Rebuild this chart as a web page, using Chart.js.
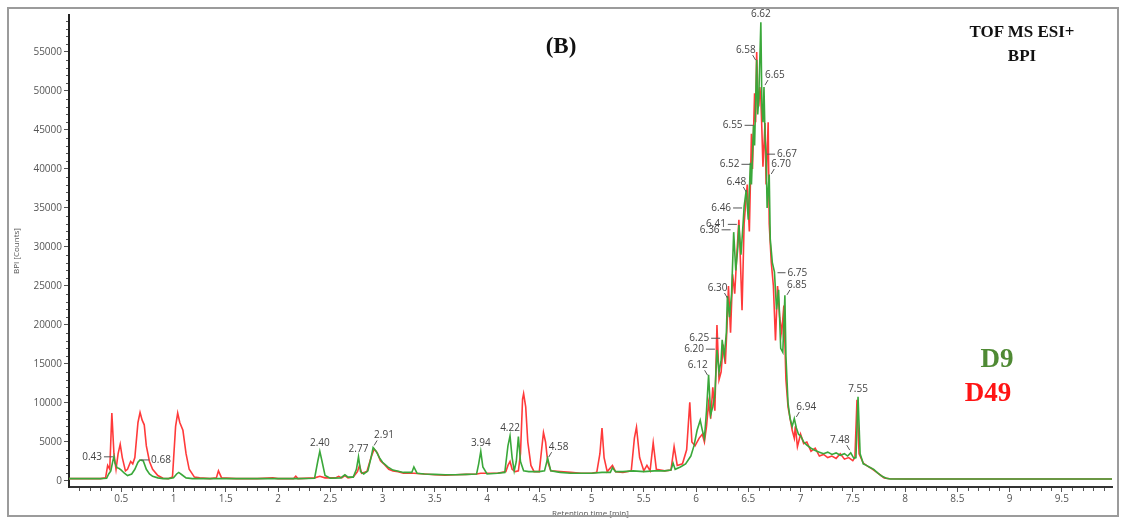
<!DOCTYPE html>
<html>
<head>
<meta charset="utf-8">
<script src="https://cdn.jsdelivr.net/npm/chart.js@4.4.1/dist/chart.umd.min.js"></script>
<style>
  html, body { margin: 0; padding: 0; background: #fff; }
  #wrap { position: relative; width: 1124px; height: 520px; overflow: hidden; }
  #frame { position: absolute; left: 7px; top: 7px; width: 1112px; height: 510px; border: 2px solid #9b9b9b; box-sizing: border-box; pointer-events: none; }
  .note { position: absolute; transform: translate(-50%, -50%); font-family: 'Liberation Serif', 'Times New Roman', serif; font-weight: bold; white-space: nowrap; line-height: 1; }
</style>
</head>
<body>
<div id="wrap">
  <canvas id="c" width="1124" height="520"></canvas>
  <div id="frame"></div>
  <div class="note" style="left:561px;top:45px;font-size:23px;color:#111">(B)</div>
  <div class="note" style="left:1022px;top:31px;font-size:17px;color:#111">TOF MS ESI+</div>
  <div class="note" style="left:1022px;top:55px;font-size:17px;color:#111">BPI</div>
  <div class="note" style="left:997px;top:358px;font-size:27px;color:#4f8a34">D9</div>
  <div class="note" style="left:988px;top:392px;font-size:27px;color:#ff1414">D49</div>
</div>
<script>
// D9 (green) base peak intensity trace
var d9Time = [
  0, 0.1, 0.2, 0.3, 0.36, 0.38, 0.4, 0.42, 0.43, 0.44,
  0.46, 0.48, 0.5, 0.53, 0.56, 0.6, 0.63, 0.66, 0.68, 0.71,
  0.74, 0.77, 0.8, 0.85, 0.9, 0.95, 1.0, 1.03, 1.05, 1.08,
  1.12, 1.18, 1.3, 1.5, 1.8, 2.0, 2.2, 2.35, 2.38, 2.40,
  2.42, 2.45, 2.5, 2.6, 2.64, 2.67, 2.72, 2.75, 2.77, 2.79,
  2.82, 2.86, 2.89, 2.91, 2.94, 2.97, 3.0, 3.05, 3.1, 3.2,
  3.28, 3.3, 3.33, 3.4, 3.5, 3.6, 3.7, 3.8, 3.9, 3.92,
  3.94, 3.96, 4.0, 4.1, 4.17, 4.2, 4.22, 4.24, 4.26, 4.28,
  4.30, 4.32, 4.35, 4.4, 4.5, 4.55, 4.58, 4.61, 4.7, 4.8,
  4.9, 5.0, 5.1, 5.18, 5.2, 5.23, 5.3, 5.4, 5.5, 5.6,
  5.7, 5.76, 5.78, 5.8, 5.85, 5.9, 5.95, 5.98, 6.01, 6.04,
  6.06, 6.08, 6.10, 6.12, 6.14, 6.16, 6.18, 6.20, 6.22, 6.24,
  6.25, 6.27, 6.29, 6.30, 6.32, 6.34, 6.36, 6.38, 6.40, 6.41,
  6.43, 6.45, 6.46, 6.48, 6.50, 6.52, 6.53, 6.55, 6.56, 6.58,
  6.59, 6.60, 6.62, 6.63, 6.64, 6.65, 6.66, 6.67, 6.68, 6.70,
  6.71, 6.73, 6.75, 6.77, 6.79, 6.81, 6.83, 6.85, 6.86, 6.88,
  6.90, 6.92, 6.94, 6.96, 6.98, 7.0, 7.03, 7.06, 7.1, 7.14,
  7.18, 7.22, 7.26, 7.3, 7.34, 7.38, 7.42, 7.45, 7.48, 7.51,
  7.53, 7.55, 7.57, 7.6, 7.63, 7.67, 7.7, 7.74, 7.78, 7.82,
  7.86, 8.0, 9.0, 10.0
];
var d9Counts = [
  300, 300, 300, 300, 350, 900, 1300, 2600, 3100, 2300,
  1700, 1600, 1400, 1000, 700, 900, 1500, 2400, 2700, 2600,
  1500, 900, 600, 400, 300, 300, 400, 900, 1100, 800,
  400, 300, 300, 300, 300, 300, 300, 350, 2500, 3800,
  2600, 700, 350, 400, 800, 500, 500, 1500, 3100, 1200,
  900, 1300, 3000, 4300, 3800, 3000, 2400, 1800, 1400, 1100,
  1100, 1800, 1000, 900, 850, 800, 800, 850, 900, 2200,
  3800, 1800, 900, 1000, 1100, 4500, 5800, 3000, 1300, 2500,
  5700, 2500, 1300, 1200, 1200, 1300, 2900, 1300, 1100, 1000,
  1000, 1000, 1100, 1100, 1700, 1200, 1200, 1300, 1200, 1300,
  1300, 1400, 2300, 1500, 1800, 2200, 3200, 4500, 6500, 7800,
  6500, 5500, 9000, 13600, 8500, 9500, 11000, 16800, 14000, 15500,
  18100, 16000, 19000, 23700, 21000, 24000, 31900, 27000, 30000, 32800,
  29000, 33000, 35200, 37300, 33500, 40800, 38000, 45600, 43000, 54000,
  47000, 49000, 58800, 48000, 46000, 50500, 44000, 42000, 35000, 39300,
  31000, 28000, 26800, 22000, 24500, 17000, 16500, 23800, 16000, 10000,
  8000, 7000, 8000, 6800, 6000, 5800, 5000, 4600, 4200, 3900,
  3700, 3500, 3700, 3400, 3600, 3300, 3500, 3200, 3600, 2900,
  3000, 10800, 3500, 2200, 2000, 1700, 1500, 1000, 600, 350,
  260, 260, 260, 260
];

// D49 (red) base peak intensity trace
var d49Time = [
  0, 0.1, 0.2, 0.3, 0.35, 0.37, 0.39, 0.41, 0.43, 0.45,
  0.47, 0.49, 0.51, 0.54, 0.56, 0.59, 0.61, 0.63, 0.66, 0.68,
  0.70, 0.72, 0.74, 0.77, 0.8, 0.85, 0.9, 0.95, 0.99, 1.02,
  1.04, 1.06, 1.09, 1.12, 1.15, 1.2, 1.25, 1.35, 1.41, 1.43,
  1.46, 1.6, 1.8, 1.95, 2.0, 2.15, 2.17, 2.19, 2.35, 2.4,
  2.45, 2.55, 2.58, 2.61, 2.64, 2.67, 2.72, 2.76, 2.78, 2.80,
  2.85, 2.89, 2.92, 2.95, 2.98, 3.02, 3.06, 3.1, 3.15, 3.2,
  3.3, 3.4, 3.5, 3.6, 3.7, 3.8, 3.9, 3.94, 4.0, 4.1,
  4.18, 4.20, 4.22, 4.24, 4.27, 4.30, 4.32, 4.34, 4.35, 4.37,
  4.39, 4.42, 4.45, 4.5, 4.53, 4.54, 4.56, 4.58, 4.61, 4.7,
  4.8, 4.9, 5.0, 5.05, 5.08, 5.10, 5.12, 5.15, 5.2, 5.23,
  5.3, 5.38, 5.41, 5.43, 5.46, 5.5, 5.53, 5.56, 5.59, 5.62,
  5.7, 5.76, 5.79, 5.82, 5.87, 5.91, 5.94, 5.96, 5.99, 6.03,
  6.06, 6.08, 6.10, 6.12, 6.14, 6.16, 6.18, 6.20, 6.22, 6.24,
  6.26, 6.28, 6.30, 6.31, 6.33, 6.35, 6.37, 6.39, 6.41, 6.42,
  6.44, 6.46, 6.48, 6.49, 6.51, 6.53, 6.54, 6.56, 6.57, 6.58,
  6.59, 6.60, 6.61, 6.62, 6.63, 6.64, 6.66, 6.67, 6.69, 6.70,
  6.72, 6.74, 6.76, 6.78, 6.80, 6.82, 6.84, 6.86, 6.88, 6.90,
  6.92, 6.94, 6.95, 6.97, 7.0, 7.03, 7.06, 7.1, 7.14, 7.18,
  7.22, 7.26, 7.3, 7.34, 7.38, 7.42, 7.46, 7.5, 7.52, 7.54,
  7.56, 7.6, 7.64, 7.68, 7.72, 7.76, 7.8, 7.85, 8.0, 10.0
];
var d49Counts = [
  300, 300, 300, 300, 400, 2000, 1500, 8700, 3500, 1500,
  3500, 4700, 3000, 1300, 1500, 2500, 2200, 3000, 7500, 8800,
  7800, 7200, 4500, 2500, 1500, 700, 350, 300, 500, 7000,
  8700, 7500, 6500, 3500, 1500, 500, 400, 300, 400, 1300,
  400, 300, 300, 400, 300, 300, 600, 300, 400, 600,
  400, 400, 600, 400, 700, 400, 500, 1200, 2000, 1000,
  1200, 3000, 4100, 3600, 2600, 2100, 1500, 1300, 1200, 1000,
  1000, 900, 800, 750, 800, 850, 900, 1000, 1000, 1000,
  1200, 2000, 2500, 1500, 1200, 1300, 3500, 10500, 11200, 9500,
  5000, 2000, 1200, 1200, 5000, 6200, 5000, 2500, 1300, 1200,
  1100, 1000, 1000, 1100, 3500, 6800, 3000, 1200, 2000, 1200,
  1100, 1300, 5500, 6900, 3000, 1300, 2000, 1300, 4900, 1500,
  1300, 1400, 4400, 2000, 2200, 4000, 10100, 5000, 4500, 5500,
  6000, 5000, 7000, 10000, 8000, 12000, 9000, 20000, 13000, 14000,
  17500, 15000, 21000, 25000, 19000, 26500, 24000, 29000, 33500, 30000,
  21900, 33000, 36500, 38000, 32000, 44500, 40000, 49700, 46000, 55000,
  50000, 48000, 50500, 49000, 45000, 40300, 45900, 38000, 46000, 33000,
  28000, 25000, 18000, 25000, 21000, 19000, 22500, 13000, 9500, 8000,
  6500, 5500, 7000, 4400, 6000, 4800, 5000, 3800, 4200, 3200,
  3400, 3000, 3200, 2900, 3500, 2800, 3000, 2600, 3000, 10400,
  3500, 2300, 1900, 1600, 1200, 800, 400, 280, 260, 260
];

// annotated retention times and where their labels sit
var peakLabels = ['0.43', '0.68', '2.40', '2.77', '2.91', '3.94', '4.22', '4.58', '6.12', '6.20',
  '6.25', '6.30', '6.36', '6.41', '6.46', '6.48', '6.52', '6.55', '6.58', '6.62',
  '6.65', '6.67', '6.70', '6.75', '6.85', '6.94', '7.48', '7.55'];
var peakTimes = [0.43, 0.68, 2.40, 2.77, 2.91, 3.94, 4.22, 4.58, 6.12, 6.19,
  6.24, 6.31, 6.34, 6.40, 6.45, 6.49, 6.53, 6.56, 6.58, 6.62,
  6.65, 6.67, 6.71, 6.77, 6.86, 6.95, 7.48, 7.55];
var peakCounts = [3100, 2700, 3800, 3100, 4300, 3800, 5800, 2800, 13300, 16900,
  18300, 23200, 32200, 32900, 35000, 36800, 40600, 45600, 53700, 58800,
  50500, 41900, 39100, 26700, 23600, 7950, 3700, 10800];

var xTicks = [0.5, 1, 1.5, 2, 2.5, 3, 3.5, 4, 4.5, 5, 5.5, 6, 6.5, 7, 7.5, 8, 8.5, 9, 9.5];
var xTickLabels = ['0.5', '1', '1.5', '2', '2.5', '3', '3.5', '4', '4.5', '5', '5.5', '6', '6.5', '7', '7.5', '8', '8.5', '9', '9.5'];
var yTicks = [0, 5000, 10000, 15000, 20000, 25000, 30000, 35000, 40000, 45000, 50000, 55000];
var yTickLabels = ['0', '5000', '10000', '15000', '20000', '25000', '30000', '35000', '40000', '45000', '50000', '55000'];

function toPoints(times, counts) {
  return times.map(function (t, i) { return { x: t, y: counts[i] }; });
}

// leader style for each label, same order as peakLabels
var labelKinds = ['left', 'right', 'top', 'top', 'slash', 'top', 'top', 'slash', 'back', 'left',
  'left', 'back', 'left', 'left', 'left', 'back', 'left', 'left', 'back', 'top',
  'slash', 'right', 'slash', 'right', 'slash', 'slash', 'back', 'top'];

var peakLabelPlugin = {
  id: 'peakLabels',
  afterDatasetsDraw: function (chart) {
    var ctx = chart.ctx;
    var xs = chart.scales.x, ys = chart.scales.y;
    ctx.save();
    ctx.font = '10px "Open Sans", sans-serif';
    ctx.fillStyle = '#444';
    ctx.strokeStyle = '#555';
    ctx.lineWidth = 1;
    ctx.textBaseline = 'middle';
    peakLabels.forEach(function (txt, i) {
      var px = xs.getPixelForValue(peakTimes[i]);
      var py = ys.getPixelForValue(peakCounts[i]);
      var kind = labelKinds[i];
      ctx.beginPath();
      if (kind === 'top') {
        ctx.textAlign = 'center';
        ctx.fillText(txt, px, py - 8);
      } else if (kind === 'left') {
        ctx.moveTo(px - 10, py); ctx.lineTo(px - 1, py); ctx.stroke();
        ctx.textAlign = 'right';
        ctx.fillText(txt, px - 12, py);
      } else if (kind === 'right') {
        ctx.moveTo(px + 1, py); ctx.lineTo(px + 9, py); ctx.stroke();
        ctx.textAlign = 'left';
        ctx.fillText(txt, px + 11, py);
      } else if (kind === 'slash') {
        ctx.moveTo(px + 1, py - 2); ctx.lineTo(px + 4, py - 7); ctx.stroke();
        ctx.textAlign = 'left';
        ctx.fillText(txt, px + 1, py - 12);
      } else {
        ctx.moveTo(px - 1, py - 2); ctx.lineTo(px - 4, py - 7); ctx.stroke();
        ctx.textAlign = 'right';
        ctx.fillText(txt, px - 1, py - 12);
      }
    });
    ctx.restore();
  }
};

var minorTickPlugin = {
  id: 'minorTicks',
  afterDraw: function (chart) {
    var ctx = chart.ctx, a = chart.chartArea;
    var xs = chart.scales.x, ys = chart.scales.y;
    ctx.save();
    ctx.strokeStyle = '#555';
    ctx.lineWidth = 1;
    ctx.beginPath();
    for (var i = 1; i < 100; i++) {
      if (i % 5 === 0) continue;
      var x = Math.round(xs.getPixelForValue(i / 10)) + 0.5;
      ctx.moveTo(x, a.bottom + 1); ctx.lineTo(x, a.bottom + 4);
    }
    for (var j = 1; j < 60; j++) {
      if (j % 5 === 0) continue;
      var y = Math.round(ys.getPixelForValue(j * 1000)) + 0.5;
      ctx.moveTo(a.left - 1, y); ctx.lineTo(a.left - 3, y);
    }
    ctx.stroke();
    ctx.restore();
  }
};

new Chart(document.getElementById('c'), {
  type: 'line',
  data: {
    datasets: [{
      label: 'D9',
      data: toPoints(d9Time, d9Counts),
      borderColor: '#3aa83a',
      borderWidth: 1.6,
      pointRadius: 0,
      tension: 0,
      fill: false
    }, {
      label: 'D49',
      data: toPoints(d49Time, d49Counts),
      borderColor: '#ff3a3a',
      borderWidth: 1.6,
      pointRadius: 0,
      tension: 0,
      fill: false
    }]
  },
  options: {
    responsive: false,
    animation: false,
    layout: { padding: { top: 15, right: 12, left: 0, bottom: 0 } },
    plugins: { legend: { display: false }, tooltip: { enabled: false } },
    scales: {
      x: {
        type: 'linear',
        min: 0,
        max: 9.98,
        afterBuildTicks: function (s) { s.ticks = xTicks.map(function (v) { return { value: v }; }); },
        afterFit: function (s) { s.height = 33; },
        ticks: {
          color: '#555',
          font: { size: 10, family: 'Open Sans' },
          padding: 1,
          maxRotation: 0,
          autoSkip: false,
          callback: function (v, i) { return xTickLabels[i]; }
        },
        grid: { drawOnChartArea: false, drawTicks: true, tickLength: 5, tickColor: '#555' },
        border: { display: true, color: '#333', width: 2 },
        title: { display: true, text: 'Retention time [min]', color: '#555', font: { size: 8, family: 'Open Sans' }, padding: { top: 0, bottom: 1 } }
      },
      y: {
        type: 'linear',
        min: -770,
        max: 59740,
        afterBuildTicks: function (s) { s.ticks = yTicks.map(function (v) { return { value: v }; }); },
        afterFit: function (s) { s.width = 69; },
        ticks: {
          color: '#555',
          font: { size: 10, family: 'Open Sans' },
          padding: 2,
          autoSkip: false,
          callback: function (v, i) { return yTickLabels[i]; }
        },
        grid: { drawOnChartArea: false, drawTicks: true, tickLength: 5, tickColor: '#555' },
        border: { display: true, color: '#222', width: 2 },
        title: { display: true, text: 'BPI [Counts]', color: '#555', font: { size: 8, family: 'Open Sans' }, padding: { top: 12, bottom: 0 } }
      }
    }
  },
  plugins: [peakLabelPlugin, minorTickPlugin]
});
</script>
</body>
</html>
